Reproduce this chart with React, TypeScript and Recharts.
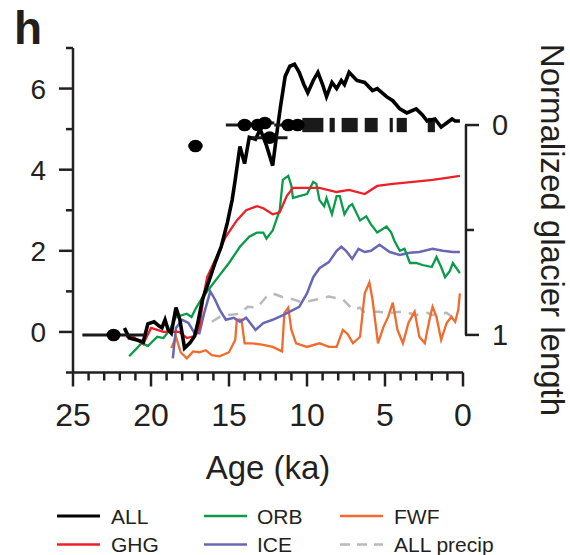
import {
    ComposedChart, Line, Scatter, ErrorBar, XAxis, YAxis, ReferenceLine, ReferenceArea
} from 'recharts';

// [age ka, response] pairs
const ALL: [number, number][] = [
    [21.7, 0.1], [21.4, -0.15], [20.9, -0.2], [20.5, -0.25], [20.2, 0.2], [19.8, 0.25], [19.5, 0.15],
    [19.3, 0.1], [19.1, 0.3], [18.9, 0.05], [18.7, -0.03], [18.4, 0.6], [18.15, 0.3], [17.85, -0.4],
    [17.5, -0.27], [17.2, -0.1], [17.0, 0.22], [16.7, 0.8], [16.2, 1.35], [15.9, 1.7], [15.5, 2.1],
    [15.1, 2.7], [14.8, 3.25], [14.6, 3.75], [14.3, 4.57], [14.0, 4.15], [13.7, 4.8], [13.3, 4.75],
    [13.0, 5.0], [12.6, 4.6], [12.2, 4.1], [11.9, 5.0], [11.7, 5.55], [11.4, 6.3], [11.1, 6.55],
    [10.8, 6.6], [10.5, 6.4], [10.2, 6.1], [9.95, 5.9], [9.6, 6.2], [9.3, 6.4], [9.0, 6.1], [8.75, 5.8],
    [8.4, 6.15], [8.1, 6.0], [7.8, 6.2], [7.6, 6.1], [7.3, 6.4], [6.8, 6.2], [6.3, 6.15], [5.8, 5.95],
    [5.5, 6.0], [4.9, 5.8], [4.5, 5.7], [4.05, 5.5], [3.6, 5.4], [3.0, 5.5], [2.6, 5.35], [2.3, 5.2],
    [1.8, 5.25], [1.4, 5.05], [1.05, 5.15], [0.7, 5.25], [0.5, 5.2], [0.2, 5.2],
];

const GHG: [number, number][] = [
    [21.6, -0.12], [21.2, -0.1], [20.5, -0.3], [20.0, 0.1], [19.6, 0.05], [19.2, 0.0], [18.8, 0.0],
    [18.2, 0.0], [17.7, -0.15], [17.2, -0.1], [16.9, 0.1], [16.6, 0.95], [16.4, 1.35], [15.8, 1.85],
    [15.2, 2.35], [14.5, 2.75], [13.9, 3.0], [13.2, 3.1], [12.8, 3.05], [12.2, 2.9], [11.75, 2.95],
    [11.3, 3.35], [10.9, 3.55], [10.5, 3.55], [9.9, 3.55], [9.2, 3.55], [8.1, 3.45], [7.3, 3.5],
    [6.3, 3.4], [5.5, 3.6], [4.5, 3.65], [3.2, 3.7], [1.95, 3.75], [1.05, 3.8], [0.2, 3.85],
];

const ORB: [number, number][] = [
    [21.4, -0.6], [20.9, -0.4], [20.6, -0.27], [20.2, -0.35], [19.6, -0.12], [19.2, -0.15], [18.8, 0.05],
    [18.4, 0.37], [17.7, 0.45], [17.4, 0.37], [17.1, 0.6], [16.7, 0.85], [16.2, 1.1], [15.6, 1.4],
    [15.0, 1.7], [14.3, 2.1], [13.7, 2.35], [13.2, 2.45], [12.8, 2.45], [12.6, 2.3], [12.2, 2.5],
    [11.75, 3.0], [11.55, 3.75], [11.2, 3.85], [11.0, 3.6], [10.9, 3.3], [10.5, 3.35], [10.0, 3.4],
    [9.6, 3.7], [9.4, 3.65], [9.2, 3.25], [8.9, 3.1], [8.75, 3.3], [8.4, 2.9], [8.1, 3.35], [7.9, 3.35],
    [7.6, 2.9], [7.3, 3.1], [7.1, 3.15], [6.6, 2.75], [6.2, 2.85], [5.9, 2.65], [5.5, 2.45], [4.9, 2.6],
    [4.6, 2.45], [4.4, 2.25], [4.05, 2.0], [3.75, 2.05], [3.4, 1.7], [3.0, 1.7], [2.6, 1.65], [2.0, 1.6],
    [1.7, 1.85], [1.4, 1.6], [1.15, 1.35], [0.85, 1.5], [0.65, 1.7], [0.2, 1.45],
];

const ICE: [number, number][] = [
    [18.6, -0.65], [18.4, 0.1], [18.0, 0.3], [17.6, 0.22], [17.2, -0.03], [16.9, -0.03], [16.6, 0.45],
    [16.2, 1.0], [15.9, 0.8], [15.6, 0.55], [15.2, 0.3], [14.7, 0.35], [14.3, 0.25], [13.9, 0.35],
    [13.3, 0.05], [12.8, 0.22], [12.2, 0.3], [11.5, 0.42], [11.1, 0.5], [10.5, 0.62], [10.0, 0.95],
    [9.6, 1.35], [9.2, 1.57], [8.6, 1.72], [8.1, 2.0], [7.8, 2.1], [7.5, 2.0], [7.1, 1.8], [6.7, 2.05],
    [6.3, 1.97], [5.9, 2.0], [5.35, 2.15], [4.7, 1.97], [4.05, 1.9], [3.4, 1.95], [2.8, 1.97],
    [1.95, 2.05], [1.3, 2.0], [0.65, 1.97], [0.2, 1.97],
];

const FWF: [number, number][] = [
    [18.7, -0.4], [18.4, -0.12], [18.1, -0.5], [17.7, -0.65], [17.3, -0.48], [16.9, -0.5], [16.5, -0.45],
    [16.1, -0.57], [15.6, -0.6], [15.0, -0.5], [14.6, -0.2], [14.5, 0.3], [14.2, 0.3], [14.0, -0.28],
    [13.5, -0.28], [12.8, -0.32], [12.2, -0.37], [11.6, -0.48], [11.45, 0.47], [11.2, 0.6], [11.0, 0.05],
    [10.7, -0.28], [10.0, -0.37], [9.2, -0.28], [8.6, -0.37], [8.1, -0.37], [7.7, 0.05], [7.4, -0.05],
    [7.05, -0.28], [6.6, -0.12], [6.3, 0.95], [6.0, 1.22], [5.8, 0.8], [5.45, -0.28], [5.1, 0.12],
    [4.8, 0.37], [4.5, 0.72], [4.2, 0.05], [3.85, -0.28], [3.5, 0.22], [3.1, 0.5], [2.8, -0.12],
    [2.45, -0.28], [2.15, 0.3], [1.95, 0.62], [1.7, 0.37], [1.4, -0.2], [1.05, 0.22], [0.75, 0.37],
    [0.5, 0.25], [0.3, 0.55], [0.2, 0.95],
];

const ALL_PRECIP: [number, number][] = [
    [16.1, 0.25], [15.6, 0.37], [15.0, 0.42], [14.3, 0.45], [13.8, 0.62], [13.2, 0.6], [12.6, 0.87],
    [12.2, 0.95], [11.5, 0.85], [11.1, 0.83], [10.5, 0.75], [10.0, 0.75], [9.4, 0.8], [9.0, 0.84],
    [8.6, 0.87], [7.7, 0.8], [7.05, 0.55], [6.6, 0.6], [6.4, 0.5], [5.5, 0.5], [4.7, 0.47], [3.85, 0.5],
    [3.0, 0.42], [2.3, 0.47], [1.95, 0.42], [1.05, 0.47], [0.4, 0.3],
];

// glacier data: [age ka, normalized length, age uncertainty ka]
const GLACIER_POINTS: [number, number, number][] = [
    [22.4, 1.0, 2.0],
    [17.15, 0.1, 0.45],
    [14.0, 0.0, 1.2],
    [13.15, 0.0, 0.5],
    [12.7, -0.01, 0.6],
    [12.4, 0.06, 1.15],
    [11.2, 0.0, 0.9],
    [10.6, 0.0, 0.5],
];

// dense runs of glacier dates at normalized length 0: [from ka, to ka]
const GLACIER_RUNS: [number, number][] = [
    [10.3, 8.95], [8.55, 8.22], [7.78, 6.75], [6.3, 5.47], [4.7, 4.5], [4.25, 3.6], [2.26, 1.8],
];

const AGE_TICKS = [0, 1, 2, 3, 4, 5, 6, 7, 8, 9, 10, 11, 12, 13, 14, 15, 16, 17, 18, 19, 20, 21, 22, 23, 24, 25];
const LEFT_TICKS = [-1, 0, 1, 2, 3, 4, 5, 6, 7];
const RIGHT_TICKS = [0, 0.5, 1];

const FONT = '"Liberation Sans", Arial, Helvetica, sans-serif';
const INK = '#231f20';
const AXIS_W = 2.5;

const SERIES = [
    { name: 'ALL precip', rows: ALL_PRECIP, color: '#b9b9b9', width: 2.5, dash: '10 8' },
    { name: 'FWF', rows: FWF, color: '#f26a2c', width: 2.3 },
    { name: 'ICE', rows: ICE, color: '#6767b4', width: 2.5 },
    { name: 'ORB', rows: ORB, color: '#0a9b4a', width: 2.3 },
    { name: 'GHG', rows: GHG, color: '#ec2027', width: 2.3 },
    { name: 'ALL', rows: ALL, color: '#000000', width: 3.6 },
];

const LEGEND_COLUMNS = [['ALL', 'GHG'], ['ORB', 'ICE'], ['FWF', 'ALL precip']];

const toPoints = (rows: [number, number][]) => rows.map(([ka, v]) => ({ ka, v }));

const XTick = ({ x, y, payload }: any) => {
    const major = payload.value % 5 === 0;
    return (
        <g>
            <line x1={x} x2={x} y1={y} y2={y + (major ? 14 : 8)} stroke={INK} strokeWidth={AXIS_W} />
            {major && (
                <text x={x} y={y + 53.5} textAnchor="middle" fontSize={32} fontFamily={FONT} fill={INK}>
                    {payload.value}
                </text>
            )}
        </g>
    );
};

const LeftTick = ({ x, y, payload }: any) => {
    const major = payload.value % 2 === 0;
    return (
        <g>
            <line x1={x - (major ? 14 : 7)} x2={x} y1={y} y2={y} stroke={INK} strokeWidth={AXIS_W} />
            {major && (
                <text x={x - 27} y={y} dy="0.36em" textAnchor="end" fontSize={28} fontFamily={FONT} fill={INK}>
                    {payload.value}
                </text>
            )}
        </g>
    );
};

const RightTick = ({ x, y, payload }: any) => {
    const major = payload.value !== 0.5;
    return (
        <g>
            <line x1={x + 2} x2={x + (major ? 16 : 11)} y1={y} y2={y} stroke={INK} strokeWidth={AXIS_W} />
            {major && (
                <text x={x + 29} y={y} dy="0.36em" textAnchor="start" fontSize={29} fontFamily={FONT} fill={INK}>
                    {payload.value}
                </text>
            )}
        </g>
    );
};

const AgeTitle = (props: any) => {
    const vb = props.viewBox || { x: 73, y: 372.5, width: 390, height: 117.5 };
    return (
        <text x={vb.x + vb.width / 2} y={vb.y + 106.5} textAnchor="middle" fontSize={33} fontFamily={FONT} fill={INK}>
            Age (ka)
        </text>
    );
};

const GlacierTitle = (props: any) => {
    const vb = props.viewBox || { x: 466, y: 125, width: 0, height: 210 };
    const cx = vb.x + 75;
    const cy = vb.y + vb.height / 2;
    return (
        <text x={cx} y={cy} transform={`rotate(90, ${cx}, ${cy})`} textAnchor="middle"
            fontSize={33} fontFamily={FONT} fill={INK}>
            Normalized glacier length
        </text>
    );
};

const Dot = ({ cx, cy }: any) => <ellipse cx={cx} cy={cy} rx={7} ry={6.3} fill="#000" />;

export default function App() {
    const glacier = GLACIER_POINTS.map(([ka, r, err]) => ({ ka, r, err }));
    const byName = Object.fromEntries(SERIES.map(s => [s.name, s]));

    return (
        <div style={{ position: 'absolute', left: 0, top: 0, width: 570, height: 555, background: '#fff' }}>
            <ComposedChart width={570} height={490} margin={{ top: 48, right: 0, bottom: 0, left: 0 }}>
                <XAxis
                    xAxisId={0} type="number" dataKey="ka" domain={[0, 25]} reversed allowDataOverflow
                    ticks={AGE_TICKS} interval={0} tickSize={0} tickMargin={0} tick={<XTick />}
                    axisLine={{ stroke: INK, strokeWidth: AXIS_W }} tickLine={false} height={117.5}
                    label={<AgeTitle />}
                />
                <YAxis
                    yAxisId="left" type="number" domain={[-1, 7]} allowDataOverflow ticks={LEFT_TICKS}
                    interval={0} tickSize={0} tickMargin={0} tick={<LeftTick />} tickLine={false}
                    axisLine={{ stroke: INK, strokeWidth: AXIS_W }} width={73}
                />
                <YAxis
                    yAxisId="right" orientation="right" type="number" dataKey="r" reversed
                    domain={[-0.367, 1.179]} allowDataOverflow ticks={RIGHT_TICKS} interval={0}
                    tickSize={0} tickMargin={0} tick={<RightTick />} tickLine={false} axisLine={false} width={107}
                />

                {SERIES.map(s => (
                    <Line
                        key={s.name} yAxisId="left" data={toPoints(s.rows)} dataKey="v" name={s.name}
                        type="linear" stroke={s.color} strokeWidth={s.width} strokeDasharray={s.dash}
                        dot={false} activeDot={false} isAnimationActive={false}
                    />
                ))}

                {GLACIER_RUNS.map(([from, to], i) => (
                    <ReferenceArea
                        key={`run-${i}`} yAxisId="right" x1={from} x2={to} y1={-0.034} y2={0.034}
                        fill="#1a1a1a" fillOpacity={1} stroke="none"
                    />
                ))}

                <Scatter yAxisId="right" data={glacier} dataKey="r" shape={<Dot />} isAnimationActive={false}>
                    <ErrorBar dataKey="err" direction="x" width={0} stroke="#1a1a1a" strokeWidth={3} />
                </Scatter>

                <ReferenceLine
                    yAxisId="right" ifOverflow="visible" stroke={INK} strokeWidth={AXIS_W}
                    segment={[{ x: -0.19, y: 0 }, { x: -0.19, y: 1 }]}
                    label={<GlacierTitle />}
                />
            </ComposedChart>

            <svg width={570} height={555} style={{ position: 'absolute', left: 0, top: 0, pointerEvents: 'none' }}>
                <text x={14} y={44} fontSize={46} fontWeight="bold" fontFamily={FONT} fill={INK}>h</text>
                {LEGEND_COLUMNS.map((col, ci) =>
                    col.map((name, ri) => {
                        const s = byName[name];
                        const x0 = [57, 204, 340][ci];
                        const tx = [111, 257, 394][ci];
                        const y = 516 + ri * 28.5;
                        return (
                            <g key={name}>
                                <line x1={x0} x2={x0 + 43} y1={y} y2={y} stroke={s.color}
                                    strokeWidth={s.name === 'ALL' ? 3 : 2.4} strokeDasharray={s.dash ? '10 7' : undefined} />
                                <text x={tx} y={y} dy="0.36em" fontSize={21} fontFamily={FONT} fill={INK}>{name}</text>
                            </g>
                        );
                    })
                )}
            </svg>
        </div>
    );
}
